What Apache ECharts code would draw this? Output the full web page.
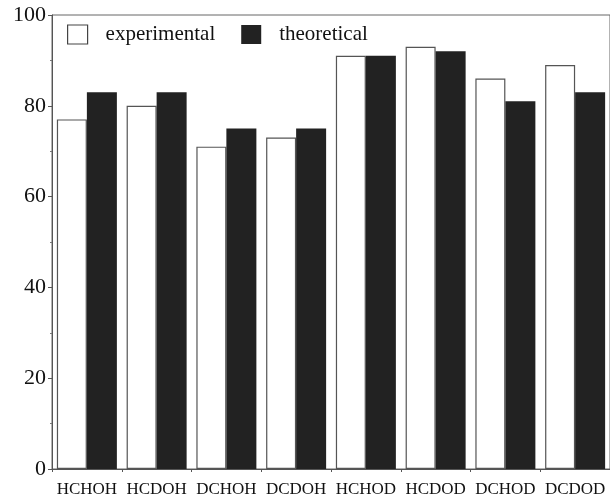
<!DOCTYPE html>
<html>
<head>
<meta charset="utf-8">
<script src="https://cdn.jsdelivr.net/npm/echarts@6/dist/echarts.min.js"></script>
<style>
html,body{margin:0;padding:0;background:#fff;}
#chart{width:610px;height:498px;}
</style>
</head>
<body>
<div id="chart"></div>
<script>
var categories = ['HCHOH','HCDOH','DCHOH','DCDOH','HCHOD','HCDOD','DCHOD','DCDOD'];
var experimental = [77, 80, 71, 73, 91, 93, 86, 89];
var theoretical = [83, 83, 75, 75, 91, 92, 81, 83];
var yTickLabels = ['0','20','40','60','80','100'];

var serif = "'Liberation Serif','Times New Roman',serif";
var chart = echarts.init(document.getElementById('chart'), null, {renderer:'canvas'});
chart.setOption({
  animation: false,
  backgroundColor: '#fff',
  grid: {left: 52, top: 15, width: 565, height: 454.5, show: true, borderColor: '#666', borderWidth: 1, backgroundColor: 'transparent'},
  legend: {
    left: 62, top: 19, itemWidth: 20, itemHeight: 19, itemGap: 26,
    icon: 'rect',
    textStyle: {fontFamily: serif, fontSize: 21, color: '#111', padding: [0,0,0,13]},
    data: [
      {name: 'experimental', itemStyle: {color: '#fff', borderColor: '#444', borderWidth: 1.2}},
      {name: 'theoretical', itemStyle: {color: '#222'}}
    ]
  },
  xAxis: {
    type: 'category', data: categories,
    axisLine: {lineStyle: {color: '#555', width: 1}},
    axisTick: {show: true, length: 3, lineStyle: {color: '#555'}},
    axisLabel: {fontFamily: serif, fontSize: 17, color: '#111', margin: 12, interval: 0}
  },
  yAxis: {
    type: 'value', min: 0, max: 100, interval: 20,
    axisLine: {show: true, lineStyle: {color: '#555', width: 1}},
    axisTick: {show: true, length: 4, lineStyle: {color: '#555'}},
    minorTick: {show: true, splitNumber: 2, length: 2, lineStyle: {color: '#777'}},
    splitLine: {show: false},
    axisLabel: {fontFamily: serif, fontSize: 22, color: '#111', margin: 6,
      formatter: function(v){ return yTickLabels[Math.round(v/20)]; }}
  },
  series: [
    {name: 'experimental', type: 'bar', data: experimental, barWidth: 30, barGap: '0%',
     itemStyle: {color: '#fff', borderColor: '#555', borderWidth: 1.2}},
    {name: 'theoretical', type: 'bar', data: theoretical, barWidth: 30,
     itemStyle: {color: '#222'}}
  ]
});
</script>
</body>
</html>
